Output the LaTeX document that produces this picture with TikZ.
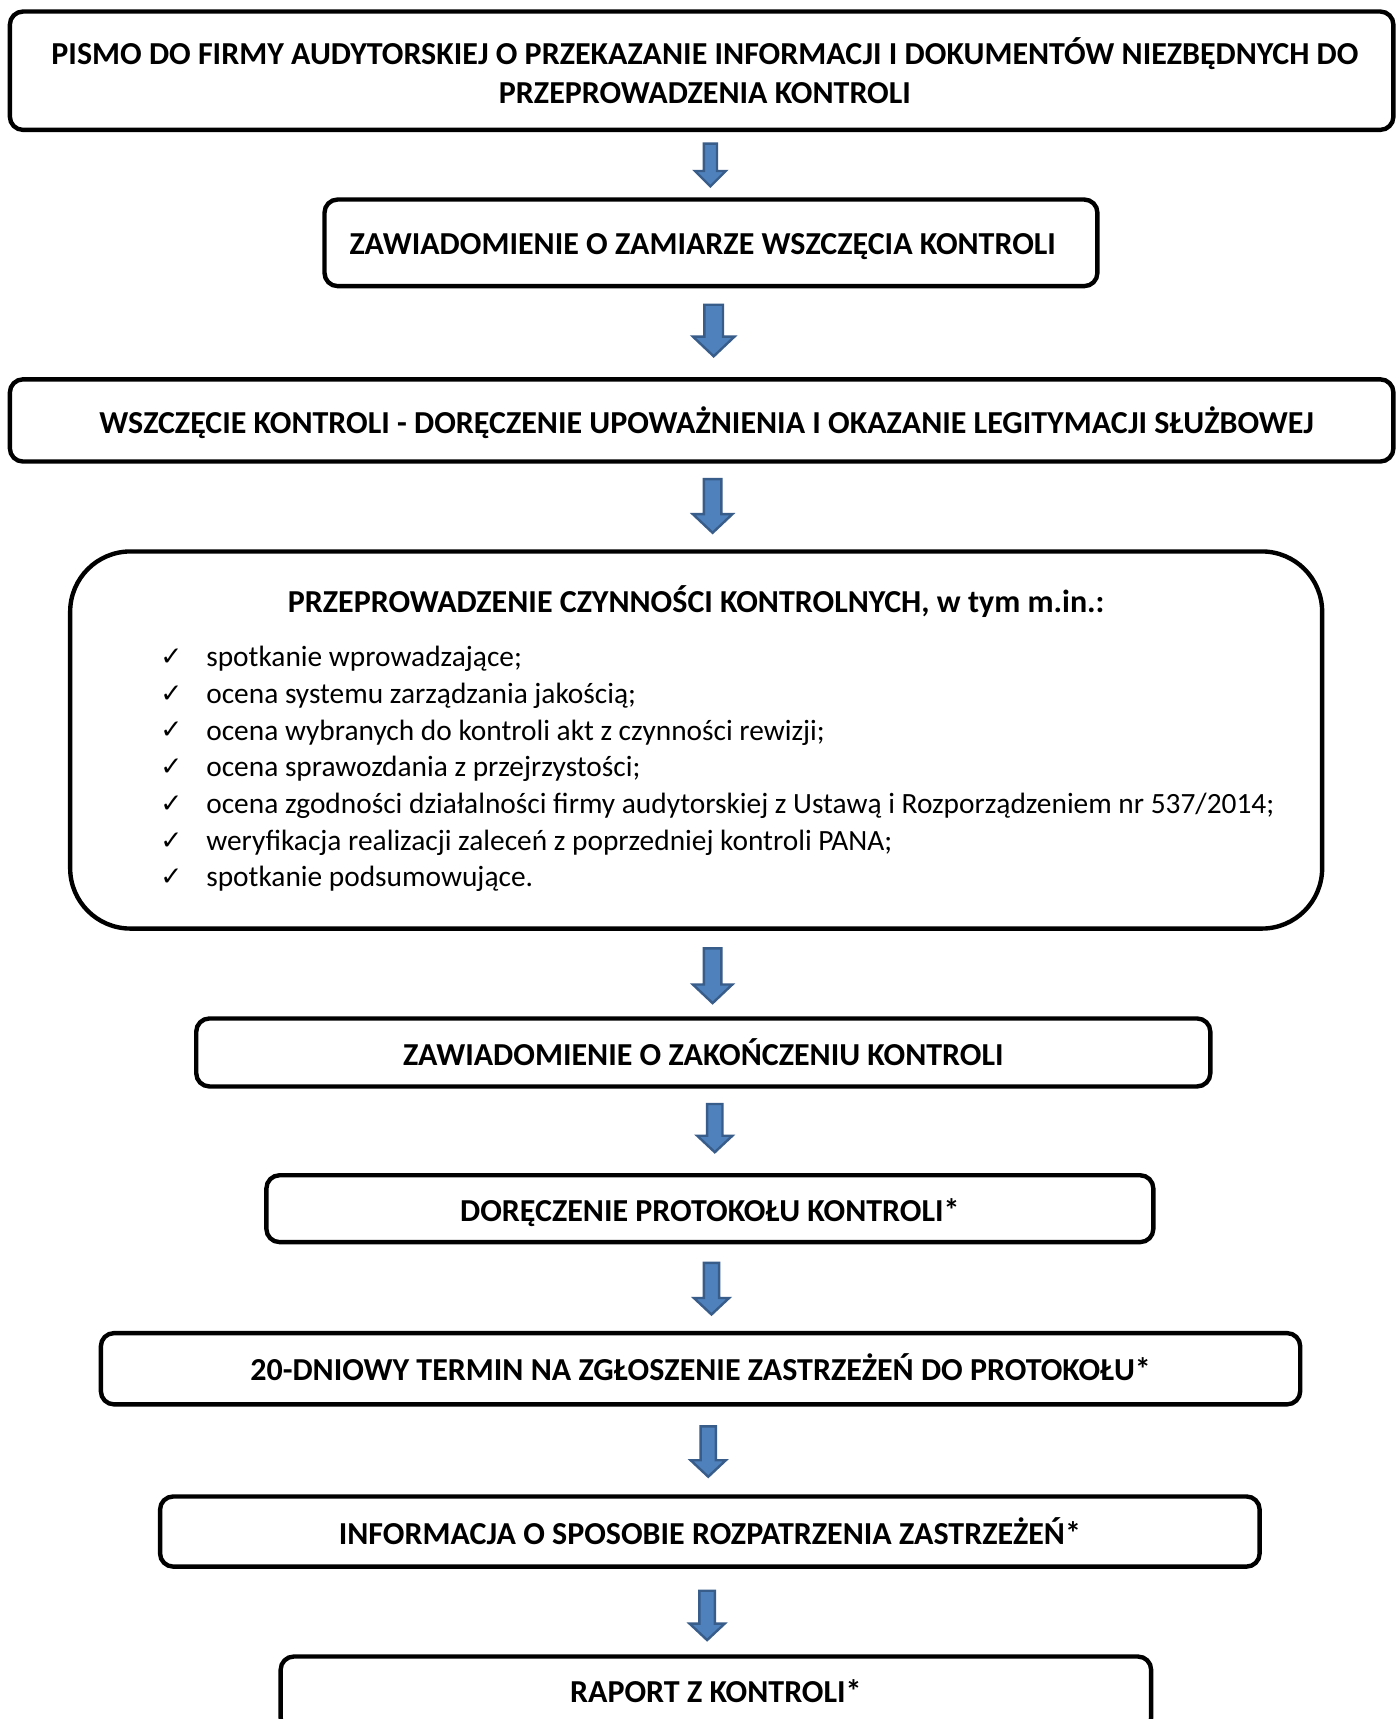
\documentclass[tikz,border=0pt]{standalone}
\usepackage{fontspec}
\setmainfont{Carlito}
\newfontfamily\symf{DejaVu Sans}
\definecolor{arrfill}{RGB}{79,129,189}
\definecolor{arrdraw}{RGB}{56,93,138}
\tikzset{
  box/.style={draw=black, line width=4pt, rounded corners=12pt, align=center, inner sep=0pt,
    font=\fontsize{29.2}{36}\selectfont\bfseries},
  bigbox/.style={draw=black, line width=4pt, rounded corners=55pt, inner sep=0pt},
  blockarr/.style={fill=arrfill, draw=arrdraw, line width=2.2pt, line join=miter},
  titletext/.style={font=\fontsize{29.2}{36}\selectfont\bfseries, inner sep=0pt},
  listtext/.style={font=\fontsize{26.8}{33.5}\selectfont, align=left, inner sep=0pt, anchor=west},
}
% block arrow: name, x, ytop, ybottom, shaft half width, head half width, head length
\newcommand\blockarrow[7]{%
  \draw[blockarr] (#2-#5,#3) -- (#2+#5,#3) -- (#2+#5,#4-#7) -- (#2+#6,#4-#7) -- (#2,#4)
     -- (#2-#6,#4-#7) -- (#2-#5,#4-#7) -- cycle;
  \coordinate (#1) at (#2,#4);}
\newcommand\ck{\makebox[42pt][l]{\raisebox{1pt}{\fontsize{24}{24}\symf ✓}}}
\newcommand\shiftv[2]{\raisebox{#1}[\height][\depth]{#2}}
\begin{document}
\begin{tikzpicture}[x=1pt,y=-1pt]
\useasboundingbox (0,0) rectangle (1274,1568);
\fill[white] (0,0) rectangle (1274,1568);

\node[box, minimum width=1262pt, minimum height=108pt] (b1) at (640,64.5)
  {\hspace*{6pt}PISMO DO FIRMY AUDYTORSKIEJ O PRZEKAZANIE INFORMACJI I DOKUMENTÓW NIEZBĘDNYCH DO\\\hspace*{6pt}PRZEPROWADZENIA KONTROLI};
\node[box, minimum width=705pt, minimum height=79pt] (b2) at (648.5,221.5)
  {\hspace*{-15pt}\shiftv{-3pt}{ZAWIADOMIENIE O ZAMIARZE WSZCZĘCIA KONTROLI}};
\node[box, minimum width=1262pt, minimum height=75pt] (b3) at (640,383.5)
  {\hspace*{9pt}\shiftv{-2pt}{WSZCZĘCIE KONTROLI - DORĘCZENIE UPOWAŻNIENIA I OKAZANIE LEGITYMACJI SŁUŻBOWEJ}};
\node[bigbox, minimum width=1142pt, minimum height=344pt] (b4) at (635,675) {};
\node[titletext] (t4) at (635,549) {PRZEPROWADZENIE CZYNNOŚCI KONTROLNYCH, w tym m.in.:};
\node[listtext] (l4) at (146,701.5) {%
\ck spotkanie wprowadzające;\\
\ck ocena systemu zarządzania jakością;\\
\ck ocena wybranych do kontroli akt z czynności rewizji;\\
\ck ocena sprawozdania z przejrzystości;\\
\ck ocena zgodności działalności firmy audytorskiej z Ustawą i Rozporządzeniem nr 537/2014;\\
\ck weryfikacja realizacji zaleceń z poprzedniej kontroli PANA;\\
\ck spotkanie podsumowujące.};
\node[box, minimum width=925pt, minimum height=62pt] (b5) at (641.5,960)
  {ZAWIADOMIENIE O ZAKOŃCZENIU KONTROLI};
\node[box, minimum width=809pt, minimum height=61pt] (b6) at (647.5,1102.5)
  {\shiftv{-4pt}{DORĘCZENIE PROTOKOŁU KONTROLI*}};
\node[box, minimum width=1094pt, minimum height=65pt] (b7) at (639,1248.5)
  {\shiftv{1pt}{20-DNIOWY TERMIN NA ZGŁOSZENIE ZASTRZEŻEŃ DO PROTOKOŁU*}};
\node[box, minimum width=1003pt, minimum height=64pt] (b8) at (647.5,1397)
  {INFORMACJA O SPOSOBIE ROZPATRZENIA ZASTRZEŻEŃ*};
\node[box, minimum width=794pt, minimum height=68pt] (b9) at (653,1545)
  {\shiftv{2pt}{RAPORT Z KONTROLI*}};

\blockarrow{a1}{648}{131}{170}{6}{14}{14}
\blockarrow{a2}{651}{278}{325}{8.5}{19}{18}
\blockarrow{a3}{650}{437}{486}{8}{18}{17}
\blockarrow{a4}{650}{865}{915}{8}{18}{17}
\blockarrow{a5}{652}{1007}{1051}{7}{16}{15}
\blockarrow{a6}{649}{1152}{1199}{7}{16}{15}
\blockarrow{a7}{646}{1301}{1347}{7}{16}{15}
\blockarrow{a8}{645}{1451}{1496}{7}{16}{15}
\end{tikzpicture}
\end{document}
